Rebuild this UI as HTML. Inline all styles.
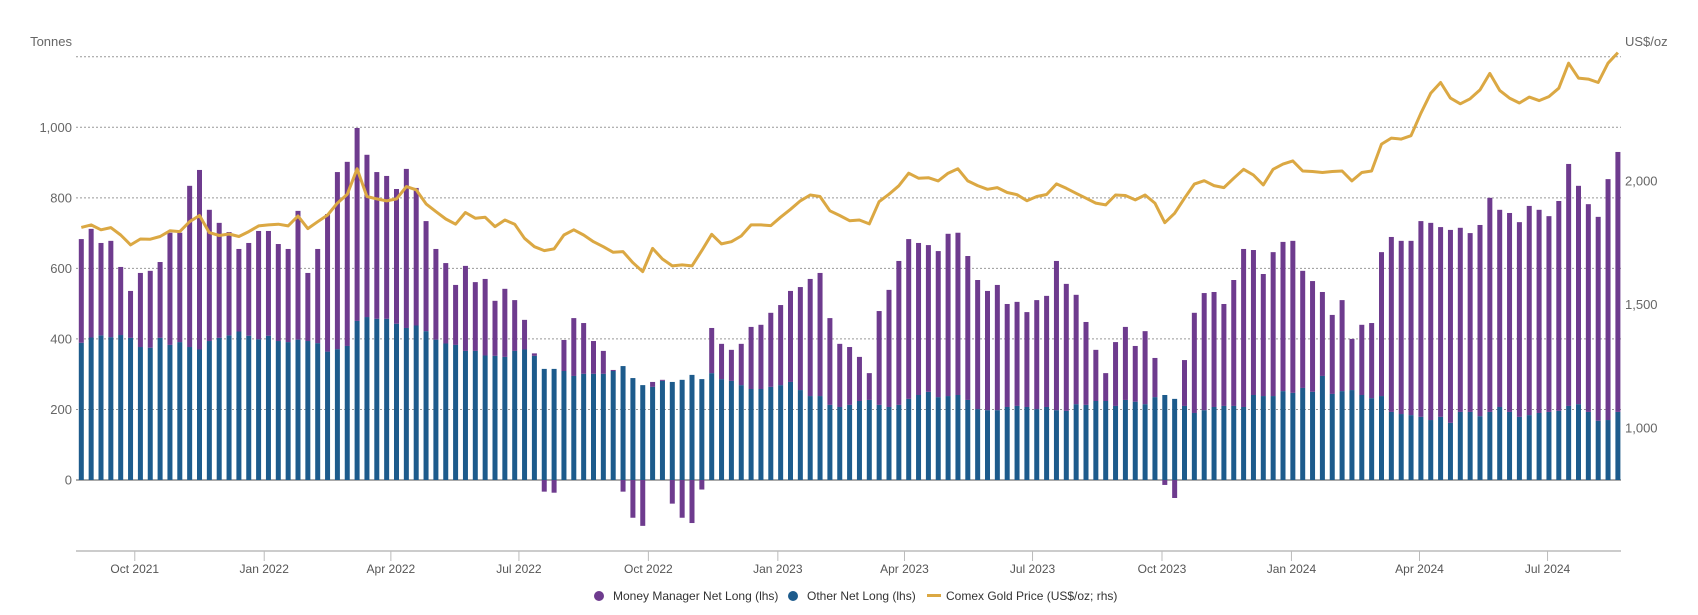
<!DOCTYPE html>
<html><head><meta charset="utf-8"><style>
html,body{margin:0;padding:0;background:#fff}
svg{display:block;font-family:"Liberation Sans",Arial,sans-serif}
</style></head><body>
<svg id="chart" width="1698" height="615" viewBox="0 0 1698 615">
<g id="grid"></g>
<g id="bars"></g>
<g id="line"></g>
<g id="axes"></g>
<text x="72" y="46" text-anchor="end" font-size="13" fill="#666">Tonnes</text>
<text x="1625" y="46" text-anchor="start" font-size="13" fill="#666">US$/oz</text>
<g font-size="12" fill="#333">
<g><circle cx="599" cy="596" r="5" fill="#6e3b8e"/><text x="613" y="600">Money Manager Net Long (lhs)</text></g>
<g><circle cx="793" cy="596" r="5" fill="#1d5b8c"/><text x="807" y="600">Other Net Long (lhs)</text></g>
<g><rect x="927" y="594" width="14" height="3" fill="#dba843"/><text x="946" y="600">Comex Gold Price (US$/oz; rhs)</text></g>
</g>
</svg>
<script>
const mmNet=[294,308,262,273,193,133,210,218,215,318,310,457,509,372,326,293,234,263,307,297,275,264,365,193,267,390,502,522,547,460,416,405,382,451,390,312,257,228,170,241,195,217,156,193,144,84,7,-33,-36,88,164,144,93,65,3,-33,-107,-130,14,3,-67,-107,-122,-27,128,100,88,117,176,182,210,227,258,292,332,349,246,179,164,125,76,266,332,408,453,431,416,414,460,460,408,366,338,355,292,295,269,309,315,423,360,310,235,145,79,181,207,158,207,111,-14,-51,130,284,332,326,289,357,448,411,346,408,423,431,332,314,238,224,258,145,199,213,408,496,491,494,555,559,538,547,522,507,542,607,559,564,552,593,576,555,595,686,619,589,578,683,737];
const otherNet=[389,404,410,405,411,403,377,375,403,383,391,377,370,394,403,410,421,409,399,409,394,391,398,394,388,364,371,380,451,462,457,457,443,431,438,422,398,387,383,366,366,353,352,349,366,370,352,315,315,309,295,301,301,301,309,323,289,269,264,281,278,284,298,286,303,286,281,269,258,258,264,269,278,255,238,238,213,207,213,224,227,213,207,213,230,241,250,235,238,241,227,201,198,198,207,210,207,201,207,198,196,215,213,224,224,210,227,222,215,235,241,230,210,190,198,207,210,210,207,241,238,238,252,247,261,250,295,244,252,255,241,232,238,193,187,184,179,170,179,162,193,193,181,193,207,193,179,184,190,193,196,210,215,193,168,170,193];
const goldPrice=[1812,1822,1802,1811,1781,1741,1765,1764,1775,1798,1795,1835,1860,1791,1779,1785,1775,1795,1818,1822,1825,1818,1858,1807,1835,1862,1910,1946,2049,1937,1927,1919,1927,1977,1964,1907,1876,1846,1825,1872,1849,1853,1815,1842,1825,1768,1734,1718,1725,1781,1802,1781,1754,1734,1711,1714,1669,1633,1727,1684,1656,1660,1656,1718,1784,1745,1754,1777,1822,1822,1819,1853,1885,1919,1943,1937,1879,1860,1839,1842,1826,1916,1946,1980,2031,2011,2013,2000,2031,2049,2000,1981,1966,1973,1953,1944,1920,1937,1945,1988,1970,1950,1930,1910,1903,1943,1941,1923,1943,1910,1831,1869,1930,1987,2001,1981,1973,2011,2047,2024,1984,2047,2068,2081,2040,2038,2034,2038,2040,2000,2034,2040,2149,2173,2169,2183,2274,2355,2398,2335,2312,2332,2368,2435,2366,2335,2315,2339,2325,2341,2375,2476,2416,2412,2398,2476,2519];
const leftTicks=[0,200,400,600,800,1000,1200];
const leftTickLabels=["0","200","400","600","800","1,000",""];
const rightTicks=[1000,1500,2000];
const rightTickLabels=["1,000","1,500","2,000"];
const monthTicks=[[2021,9],[2022,0],[2022,3],[2022,6],[2022,9],[2023,0],[2023,3],[2023,6],[2023,9],[2024,0],[2024,3],[2024,6]];
const monthLabels=["Oct 2021","Jan 2022","Apr 2022","Jul 2022","Oct 2022","Jan 2023","Apr 2023","Jul 2023","Oct 2023","Jan 2024","Apr 2024","Jul 2024"];

const NS="http://www.w3.org/2000/svg";
const startMs=Date.UTC(2021,7,24), WEEK=7*86400000;
const X0=81.3, STEP=9.85, PL=76, PR=1621;
function xDate(ms){return X0+(ms-startMs)/WEEK*STEP;}
function xIdx(i){return xDate(startMs+i*WEEK);}
function yL(v){return 480-v*0.35273;}
function yR(p){return 180.9-(p-2000)*0.2472;}
function mk(tag,attrs,parent){const e=document.createElementNS(NS,tag);for(const k in attrs)e.setAttribute(k,attrs[k]);parent.appendChild(e);return e;}

const grid=document.getElementById('grid');
leftTicks.forEach((t,i)=>{
  const y=yL(t);
  const l=mk('line',{x1:PL,x2:PR,y1:y,y2:y,stroke:t===0?'#aaa':'#999','stroke-width':t===0?2:1,'stroke-dasharray':t===0?'none':'2,2'},grid);
  
  
  if(leftTickLabels[i]){
    const tx=mk('text',{x:72,y:y+4.5,'text-anchor':'end','font-size':13,fill:'#666'},grid);
    tx.textContent=leftTickLabels[i];
    
    
  }
});
rightTicks.forEach((t,i)=>{
  const tx=mk('text',{x:1625,y:yR(t)+4.5,'text-anchor':'start','font-size':13,fill:'#666'},grid);
  tx.textContent=rightTickLabels[i];
  
  
});

const bars=document.getElementById('bars');
const BW=5;
for(let i=0;i<otherNet.length;i++){
  const x=xIdx(i)-BW/2;
  const o=otherNet[i], m=mmNet[i];
  const b=mk('rect',{x:x,y:yL(o),width:BW,height:yL(0)-yL(o),fill:'#1d5b8c'},bars);
  
  
  let y1,y2;
  if(m>=0){y1=yL(o+m);y2=yL(o);}else{y1=yL(0);y2=yL(m);}
  const p=mk('rect',{x:x,y:y1,width:BW,height:Math.max(0,y2-y1),fill:'#6e3b8e'},bars);
  
  
}

const lineG=document.getElementById('line');
let d='';
goldPrice.forEach((p,i)=>{d+=(i?'L':'M')+xIdx(i).toFixed(1)+','+yR(p).toFixed(1);});
const path=mk('path',{d:d,fill:'none',stroke:'#dba843','stroke-width':3,'stroke-linejoin':'round'},lineG);



const axes=document.getElementById('axes');
const ax=mk('line',{x1:PL,x2:PR,y1:551,y2:551,stroke:'#999','stroke-width':1},axes);


monthTicks.forEach((mt,i)=>{
  const x=xDate(Date.UTC(mt[0],mt[1],1));
  const tk=mk('line',{x1:x,x2:x,y1:551,y2:561,stroke:'#bbb','stroke-width':1},axes);
  
  
  const tx=mk('text',{x:x,y:573,'text-anchor':'middle','font-size':12,fill:'#555'},axes);
  tx.textContent=monthLabels[i];
  
  
});
</script>
</body></html>
